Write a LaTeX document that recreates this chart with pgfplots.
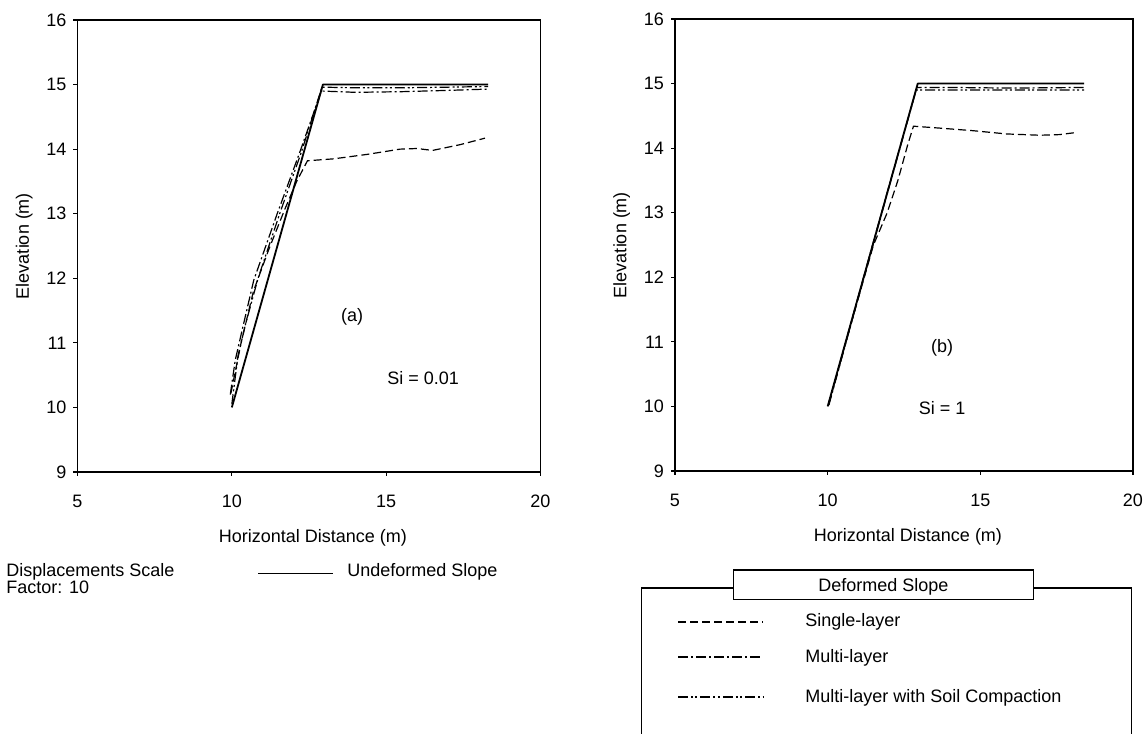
\documentclass[border=0pt]{standalone}
\usepackage{fontspec}
\setmainfont{Liberation Sans}
\usepackage{pgfplots}
\pgfplotsset{compat=1.18}

\tikzset{
  undef/.style={black, line width=0.9pt, line join=round},
  single/.style={black, line width=0.6pt, dash pattern=on 4pt off 2pt},
  multi/.style={black, line width=0.6pt, dash pattern=on 5pt off 1.5pt on 1pt off 1.5pt},
  comp/.style={black, line width=0.6pt, dash pattern=on 5pt off 1.5pt on 1pt off 1.2pt on 1pt off 1.5pt},
}
\pgfplotsset{
  slopeaxis/.style={
    scale only axis, height=226pt,
    xmin=5, xmax=20, ymin=9, ymax=16,
    xtick={5,10,15,20}, ytick={9,10,...,16},
    tick align=outside, tick pos=left, major tick length=2pt,
    axis line style={line width=0.7pt},
    tick style={black, line width=0.6pt},
    /pgf/number format/assume math mode=true,
    xticklabel style={yshift=-6pt},
    xlabel={Horizontal Distance (m)}, ylabel={Elevation (m)},
    xlabel style={at={(axis description cs:0.5,0)}, anchor=center, yshift=-33pt, xshift=2pt},
    clip=false,
  },
}

\begin{document}
\begin{tikzpicture}[font=\fontsize{9}{10.8}\selectfont]
\useasboundingbox (0,0) rectangle (574pt,367pt);

% (a) Si = 0.01
\begin{axis}[slopeaxis, width=231.5pt, at={(38.75pt,131pt)}, anchor=south west]
\addplot[undef] coordinates {(10,10)(12.95,15)(18.3,15)};
\addplot[single] coordinates {(9.97,10.22)(10.3,11.0)(10.7,11.8)(11.2,12.45)(11.7,13.05)(12.1,13.5)(12.45,13.82)(13.3,13.85)(14.4,13.92)(15.45,14.0)(16.0,14.01)(16.5,13.98)(17.4,14.07)(18.2,14.17)};
\addplot[multi] coordinates {(9.95,10.2)(10.11,10.73)(10.33,11.19)(10.71,11.97)(11.47,13.0)(12.2,13.95)(12.9,14.9)(14,14.88)(15.5,14.89)(17,14.91)(18.3,14.93)};
\addplot[comp] coordinates {(10.0,10.05)(10.2,10.8)(10.45,11.3)(10.85,12.0)(11.55,13.0)(12.25,13.95)(12.92,14.96)(14,14.95)(15.5,14.95)(17,14.96)(18.3,14.97)};
\node at (axis cs:13.9,11.4) {(a)};
\node at (axis cs:16.2,10.45) {Si = 0.01};
\end{axis}

% (b) Si = 1
\begin{axis}[slopeaxis, width=229pt, at={(337.5pt,131.5pt)}, anchor=south west]
\addplot[undef] coordinates {(10,10)(12.95,15)(18.4,15)};
\addplot[single] coordinates {(10.03,10.03)(10.6,11.0)(11.2,12.0)(11.5,12.5)(11.95,13.0)(12.3,13.5)(12.62,14.05)(12.81,14.34)(13.68,14.31)(14.77,14.27)(15.86,14.22)(16.95,14.2)(17.6,14.21)(18.1,14.24)};
\addplot[multi] coordinates {(10.03,10.03)(11.0,11.7)(12.0,13.4)(12.92,14.94)(14,14.94)(16,14.93)(18.4,14.94)};
\addplot[comp] coordinates {(10.04,10.02)(11.0,11.68)(12.0,13.38)(12.9,14.9)(14,14.9)(16,14.9)(18.4,14.9)};
\node at (axis cs:13.75,10.9) {(b)};
\node at (axis cs:13.75,9.97) {Si = 1};
\end{axis}

% scale note and undeformed key
\node[anchor=base west, inner sep=0pt] at (3pt,78.8pt) {Displacements Scale};
\node[anchor=base west, inner sep=0pt] at (3pt,70.3pt) {Factor: 10};
\draw[black, line width=0.5pt] (129pt,80pt) -- (166.5pt,80pt);
\node[anchor=base west, inner sep=0pt] at (173.5pt,78.8pt) {Undeformed Slope};

% deformed key
\draw[line width=0.6pt] (320.85pt,-2pt) -- (320.85pt,73pt) -- (565.85pt,73pt) -- (565.85pt,-2pt);
\draw[line width=0.6pt, fill=white] (366.7pt,67.35pt) rectangle (516.7pt,82pt);
\node[anchor=base, inner sep=0pt] at (441.7pt,71.3pt) {Deformed Slope};
\draw[single] (339pt,56pt) -- (381.5pt,56pt);
\node[anchor=base west, inner sep=0pt] at (402.5pt,53.8pt) {Single-layer};
\draw[multi] (339pt,38.5pt) -- (381.5pt,38.5pt);
\node[anchor=base west, inner sep=0pt] at (402.5pt,35.5pt) {Multi-layer};
\draw[comp] (339pt,18.5pt) -- (381.5pt,18.5pt);
\node[anchor=base west, inner sep=0pt] at (402.5pt,15.5pt) {Multi-layer with Soil Compaction};
\end{tikzpicture}
\end{document}
